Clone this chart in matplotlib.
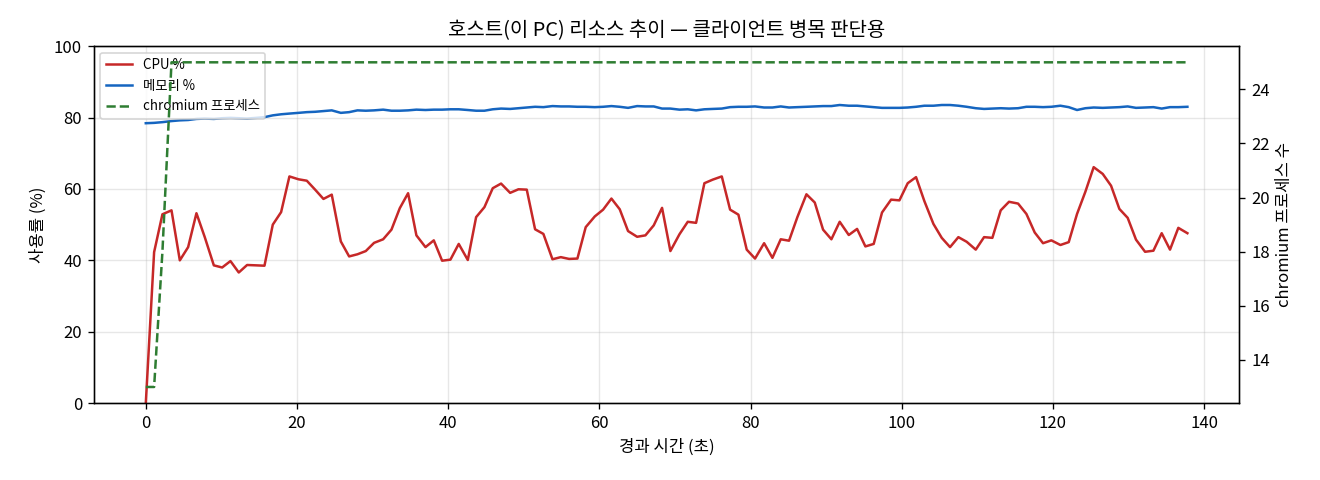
import matplotlib
matplotlib.use("Agg")
import matplotlib.pyplot as plt

plt.rcParams['font.family'] = ['Noto Sans CJK KR', 'DejaVu Sans']
plt.rcParams['axes.unicode_minus'] = False

# 경과 시간 (초)
elapsed = [
    0.0, 1.1, 2.2, 3.4, 4.5, 5.6, 6.7, 7.8, 9.0, 10.1,
    11.2, 12.3, 13.4, 14.6, 15.7, 16.8, 17.9, 19.0, 20.2, 21.3,
    22.4, 23.5, 24.6, 25.8, 26.9, 28.0, 29.1, 30.2, 31.4, 32.5,
    33.6, 34.7, 35.8, 37.0, 38.1, 39.2, 40.3, 41.4, 42.6, 43.7,
    44.8, 45.9, 47.0, 48.2, 49.3, 50.4, 51.5, 52.6, 53.8, 54.9,
    56.0, 57.1, 58.2, 59.4, 60.5, 61.6, 62.7, 63.8, 65.0, 66.1,
    67.2, 68.3, 69.4, 70.6, 71.7, 72.8, 73.9, 75.0, 76.2, 77.3,
    78.4, 79.5, 80.6, 81.8, 82.9, 84.0, 85.1, 86.2, 87.4, 88.5,
    89.6, 90.7, 91.8, 93.0, 94.1, 95.2, 96.3, 97.4, 98.6, 99.7,
    100.8, 101.9, 103.0, 104.2, 105.3, 106.4, 107.5, 108.6, 109.8, 110.9,
    112.0, 113.1, 114.2, 115.4, 116.5, 117.6, 118.7, 119.8, 121.0, 122.1,
    123.2, 124.3, 125.4, 126.6, 127.7, 128.8, 129.9, 131.0, 132.2, 133.3,
    134.4, 135.5, 136.6, 137.8,
]

cpu_pct = [
    0.0, 42.3, 52.9, 54.0, 40.0, 43.7, 53.2, 46.5, 38.6, 38.0,
    39.8, 36.6, 38.7, 38.6, 38.5, 50.0, 53.5, 63.5, 62.7, 62.3,
    59.8, 57.2, 58.4, 45.3, 41.1, 41.7, 42.6, 44.9, 45.9, 48.6,
    54.6, 58.8, 47.0, 43.7, 45.6, 39.9, 40.2, 44.6, 40.1, 52.1,
    54.9, 60.2, 61.5, 58.9, 59.9, 59.8, 48.7, 47.4, 40.3, 40.9,
    40.4, 40.5, 49.3, 52.3, 54.2, 57.3, 54.3, 48.2, 46.6, 47.0,
    49.8, 54.7, 42.6, 47.3, 50.8, 50.5, 61.6, 62.6, 63.5, 54.2,
    52.8, 43.0, 40.5, 44.8, 40.7, 45.9, 45.5, 52.1, 58.5, 56.2,
    48.6, 45.9, 50.8, 47.1, 48.8, 43.9, 44.6, 53.4, 57.0, 56.8,
    61.6, 63.3, 56.6, 50.2, 46.3, 43.7, 46.5, 45.2, 43.0, 46.5,
    46.3, 54.0, 56.4, 55.9, 53.0, 47.8, 44.8, 45.6, 44.3, 45.1,
    53.0, 59.2, 66.1, 64.2, 60.9, 54.4, 51.9, 45.8, 42.4, 42.7,
    47.6, 43.0, 49.1, 47.6,
]

mem_pct = [
    78.4, 78.5, 78.7, 79.0, 79.2, 79.3, 79.6, 79.7, 79.6, 79.8,
    79.9, 79.8, 79.7, 79.9, 80.1, 80.6, 80.9, 81.1, 81.3, 81.5,
    81.6, 81.8, 82.0, 81.3, 81.5, 82.0, 81.9, 82.0, 82.2, 81.9,
    81.9, 82.0, 82.2, 82.1, 82.2, 82.2, 82.3, 82.3, 82.1, 81.9,
    81.9, 82.3, 82.5, 82.4, 82.6, 82.8, 83.0, 82.9, 83.2, 83.1,
    83.1, 83.0, 83.0, 82.9, 83.0, 83.2, 83.0, 82.7, 83.2, 83.1,
    83.1, 82.5, 82.5, 82.2, 82.3, 82.0, 82.3, 82.4, 82.5, 82.9,
    83.0, 83.0, 83.1, 82.8, 82.8, 83.1, 82.8, 82.9, 83.0, 83.1,
    83.2, 83.2, 83.5, 83.3, 83.3, 83.1, 82.9, 82.7, 82.7, 82.7,
    82.8, 83.0, 83.3, 83.3, 83.5, 83.5, 83.3, 83.0, 82.6, 82.4,
    82.5, 82.6, 82.5, 82.6, 83.0, 83.0, 82.9, 83.0, 83.3, 82.9,
    82.1, 82.6, 82.8, 82.7, 82.8, 82.9, 83.1, 82.7, 82.8, 82.9,
    82.5, 82.9, 82.9, 83.0,
]

chromium_procs = [13, 13, 18] + [25] * 121


fig, ax1 = plt.subplots(figsize=(11, 4), dpi=120)
fig.subplots_adjust(left=0.071, right=0.939, top=0.904, bottom=0.16)

l1, = ax1.plot(elapsed, cpu_pct, color="#c62828", lw=1.5, label="CPU %")
l2, = ax1.plot(elapsed, mem_pct, color="#1565c0", lw=1.5, label="메모리 %")
ax1.set_ylim(0, 100)
ax1.set_xlabel("경과 시간 (초)")
ax1.set_ylabel("사용률 (%)")
ax1.grid(True, alpha=0.3)

ax2 = ax1.twinx()
l3, = ax2.plot(elapsed, chromium_procs, color="#2e7d32", lw=1.5, ls="--", label="chromium 프로세스")
ax2.set_ylabel("chromium 프로세스 수")

ax1.legend(handles=[l1, l2, l3], loc="upper left", fontsize=8)
ax1.set_title("호스트(이 PC) 리소스 추이 — 클라이언트 병목 판단용")

fig.savefig("out.png", dpi=120)
